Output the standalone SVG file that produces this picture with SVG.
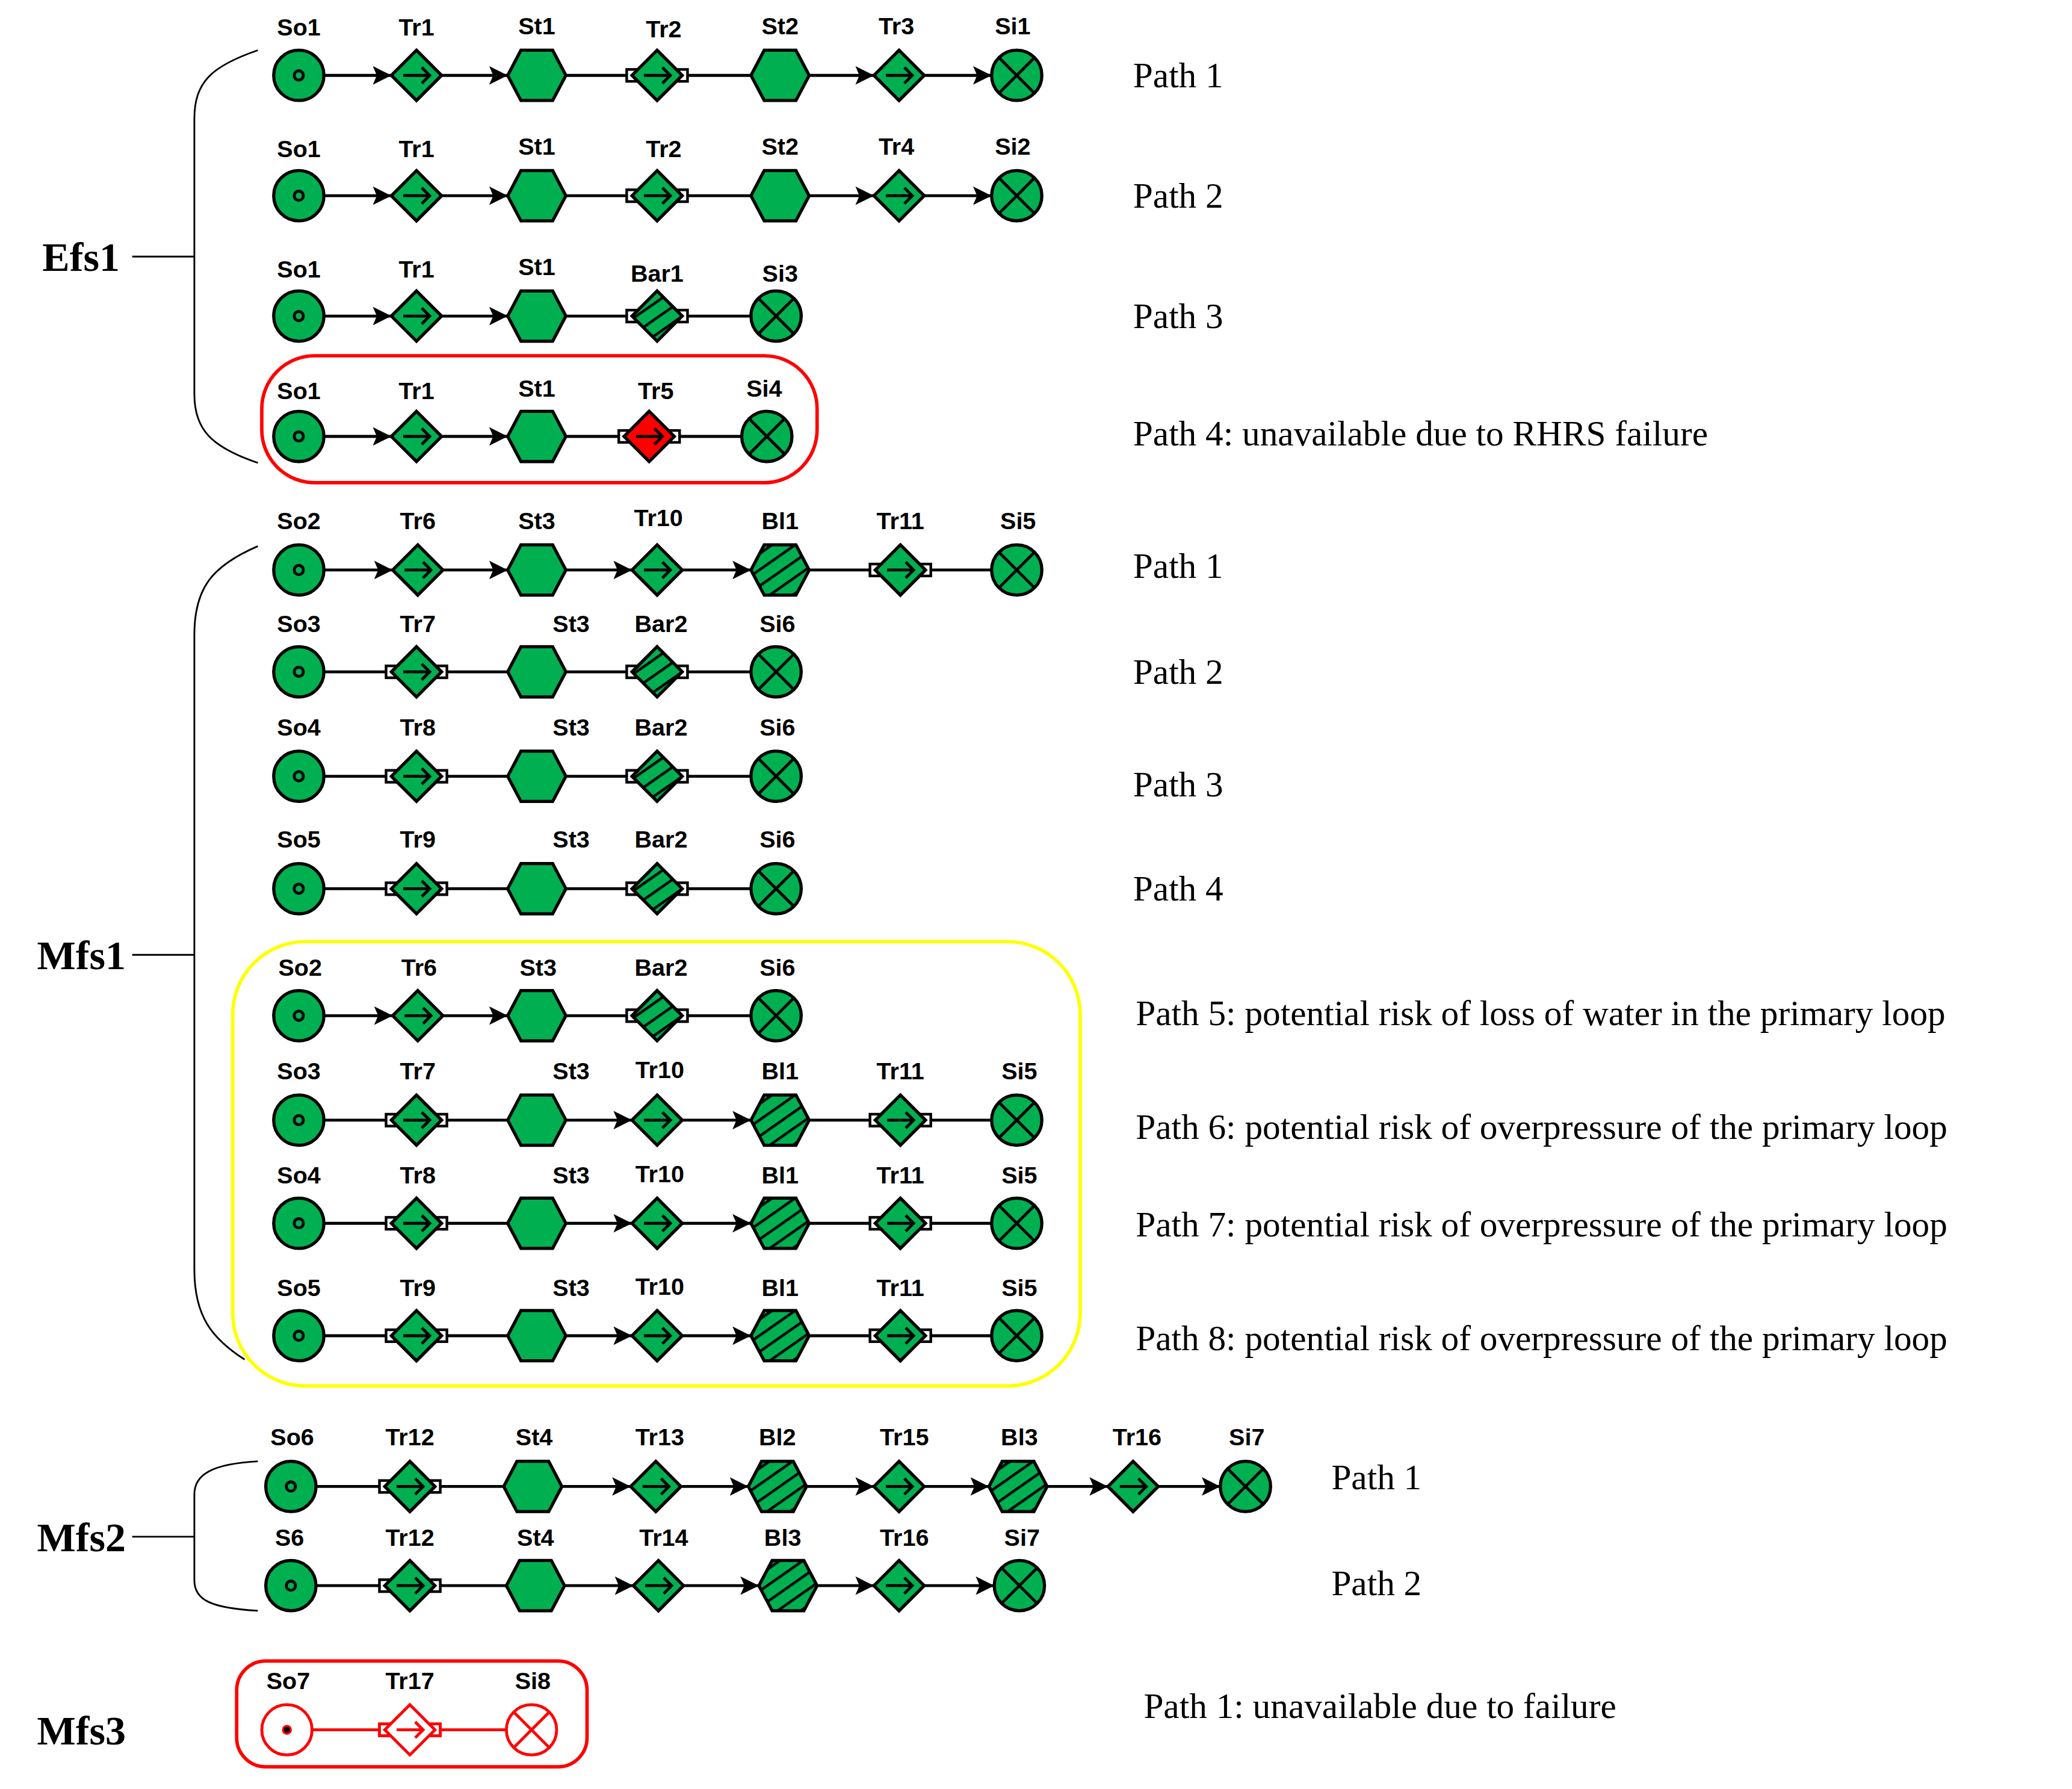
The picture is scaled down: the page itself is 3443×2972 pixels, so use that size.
<svg xmlns="http://www.w3.org/2000/svg" xmlns:xlink="http://www.w3.org/1999/xlink" width="3443" height="2972" viewBox="0 0 3443 2972">
<style>
.g{fill:#00b050;stroke:#000;stroke-width:2.4}
.w{fill:#fff;stroke:#000;stroke-width:2}
.k{fill:none;stroke:#000;stroke-width:2.2}
.c line{stroke:#000;stroke-width:2.2}
.c .a{marker-end:url(#ah)}
.r line{stroke:#f00;stroke-width:2.2}
.nl{font-family:"Liberation Sans",Arial,sans-serif;font-weight:bold;font-size:18px;text-anchor:middle}
.pl{font-family:"Liberation Serif","Times New Roman",serif;font-size:27px}
.gl{font-family:"Liberation Serif","Times New Roman",serif;font-weight:bold;font-size:31px}
.br{fill:none;stroke:#000;stroke-width:1.3}
</style>
<defs>
<marker id="ah" markerUnits="userSpaceOnUse" markerWidth="16" markerHeight="14" refX="14" refY="7" orient="auto"><path d="M0,0 L14,7 L0,14 L3,7 Z" fill="#000"/></marker>
<pattern id="hatch" patternUnits="userSpaceOnUse" width="10" height="10" patternTransform="rotate(-35)"><rect width="10" height="10" fill="#00b050"/><line x1="0" y1="0" x2="10" y2="0" stroke="#000" stroke-width="4"/></pattern>
<g id="so"><circle r="19" class="g"/><circle r="3.5" class="k"/></g>
<g id="si"><circle r="19" class="g"/><path d="M-13.4,-13.4 L13.4,13.4 M13.4,-13.4 L-13.4,13.4" class="k"/></g>
<g id="tr"><polygon points="0,-19 19,0 0,19 -19,0" class="g"/><path d="M-10,0 H10 M4,-6 L10,0 L4,6" class="k"/></g>
<g id="trp"><rect x="-23" y="-4.5" width="9" height="9" class="w"/><rect x="14" y="-4.5" width="9" height="9" class="w"/><use xlink:href="#tr"/></g>
<g id="trr"><polygon points="0,-19 19,0 0,19 -19,0" fill="#f00" stroke="#000" stroke-width="2.4"/><path d="M-10,0 H10 M4,-6 L10,0 L4,6" class="k"/></g>
<g id="st"><polygon points="-22,0 -12,-19 12,-19 22,0 12,19 -12,19" class="g"/></g>
<g id="bl"><polygon points="-22,0 -12,-19 12,-19 22,0 12,19 -12,19" fill="url(#hatch)" stroke="#000" stroke-width="2.4"/></g>
<g id="bar"><rect x="-23" y="-4.5" width="9" height="9" class="w"/><rect x="14" y="-4.5" width="9" height="9" class="w"/><polygon points="0,-19 19,0 0,19 -19,0" fill="url(#hatch)" stroke="#000" stroke-width="2.4"/></g>
</defs>
<rect width="3443" height="2972" fill="#fff"/>
<g transform="scale(2.197)">
<g id="connectors">
<g class="c">
<line class="a" x1="245" y1="57" x2="296" y2="57"/><line class="a" x1="334" y1="57" x2="384" y2="57"/><line x1="428" y1="57" x2="474" y2="57"/><line x1="520" y1="57" x2="568" y2="57"/><line class="a" x1="612" y1="57" x2="661" y2="57"/><line class="a" x1="699" y1="57" x2="750" y2="57"/>
<line class="a" x1="245" y1="148" x2="296" y2="148"/><line class="a" x1="334" y1="148" x2="384" y2="148"/><line x1="428" y1="148" x2="474" y2="148"/><line x1="520" y1="148" x2="568" y2="148"/><line class="a" x1="612" y1="148" x2="661" y2="148"/><line class="a" x1="699" y1="148" x2="750" y2="148"/>
<line class="a" x1="245" y1="239" x2="296" y2="239"/><line class="a" x1="334" y1="239" x2="384" y2="239"/><line x1="428" y1="239" x2="474" y2="239"/><line x1="520" y1="239" x2="568" y2="239"/>
<line class="a" x1="245" y1="330" x2="296" y2="330"/><line class="a" x1="334" y1="330" x2="384" y2="330"/><line x1="428" y1="330" x2="468" y2="330"/><line x1="514" y1="330" x2="561" y2="330"/>
<line class="a" x1="245" y1="431" x2="297" y2="431"/><line class="a" x1="335" y1="431" x2="384" y2="431"/><line class="a" x1="428" y1="431" x2="478" y2="431"/><line class="a" x1="516" y1="431" x2="568" y2="431"/><line x1="612" y1="431" x2="658" y2="431"/><line x1="704" y1="431" x2="750" y2="431"/>
<line x1="245" y1="508" x2="292" y2="508"/><line x1="338" y1="508" x2="384" y2="508"/><line x1="428" y1="508" x2="474" y2="508"/><line x1="520" y1="508" x2="568" y2="508"/>
<line x1="245" y1="587" x2="292" y2="587"/><line x1="338" y1="587" x2="384" y2="587"/><line x1="428" y1="587" x2="474" y2="587"/><line x1="520" y1="587" x2="568" y2="587"/>
<line x1="245" y1="672" x2="292" y2="672"/><line x1="338" y1="672" x2="384" y2="672"/><line x1="428" y1="672" x2="474" y2="672"/><line x1="520" y1="672" x2="568" y2="672"/>
<line class="a" x1="245" y1="768" x2="297" y2="768"/><line class="a" x1="335" y1="768" x2="384" y2="768"/><line x1="428" y1="768" x2="474" y2="768"/><line x1="520" y1="768" x2="568" y2="768"/>
<line x1="245" y1="847" x2="292" y2="847"/><line x1="338" y1="847" x2="384" y2="847"/><line class="a" x1="428" y1="847" x2="478" y2="847"/><line class="a" x1="516" y1="847" x2="568" y2="847"/><line x1="612" y1="847" x2="658" y2="847"/><line x1="704" y1="847" x2="750" y2="847"/>
<line x1="245" y1="925" x2="292" y2="925"/><line x1="338" y1="925" x2="384" y2="925"/><line class="a" x1="428" y1="925" x2="478" y2="925"/><line class="a" x1="516" y1="925" x2="568" y2="925"/><line x1="612" y1="925" x2="658" y2="925"/><line x1="704" y1="925" x2="750" y2="925"/>
<line x1="245" y1="1010" x2="292" y2="1010"/><line x1="338" y1="1010" x2="384" y2="1010"/><line class="a" x1="428" y1="1010" x2="478" y2="1010"/><line class="a" x1="516" y1="1010" x2="568" y2="1010"/><line x1="612" y1="1010" x2="658" y2="1010"/><line x1="704" y1="1010" x2="750" y2="1010"/>
<line x1="239" y1="1124" x2="287" y2="1124"/><line x1="333" y1="1124" x2="381" y2="1124"/><line class="a" x1="425" y1="1124" x2="477" y2="1124"/><line class="a" x1="515" y1="1124" x2="566" y2="1124"/><line class="a" x1="610" y1="1124" x2="661" y2="1124"/><line class="a" x1="699" y1="1124" x2="748" y2="1124"/><line class="a" x1="792" y1="1124" x2="838" y2="1124"/><line class="a" x1="876" y1="1124" x2="923" y2="1124"/>
<line x1="239" y1="1199" x2="287" y2="1199"/><line x1="333" y1="1199" x2="383" y2="1199"/><line class="a" x1="427" y1="1199" x2="479" y2="1199"/><line class="a" x1="517" y1="1199" x2="574" y2="1199"/><line class="a" x1="618" y1="1199" x2="661" y2="1199"/><line class="a" x1="699" y1="1199" x2="752" y2="1199"/>
</g>
<g class="r"><line x1="236" y1="1308" x2="287" y2="1308"/><line x1="333" y1="1308" x2="383" y2="1308"/></g>
</g>
<g id="boxes">
<rect x="198" y="269" width="420" height="96" rx="40" fill="none" stroke="#f00" stroke-width="2.6"/>
<rect x="176" y="712" width="641" height="336" rx="55" fill="none" stroke="#ff0" stroke-width="2.6"/>
<rect x="179" y="1256" width="265" height="80" rx="22" fill="none" stroke="#f00" stroke-width="2.6"/>
</g>
<g id="groups">
<path class="br" d="M195,38 C160,50 147,62 147,90 V298 C147,325 160,338 195,350 M100,194 H147"/>
<text class="gl" x="32" y="205">Efs1</text>
<path class="br" d="M195,413 C160,428 147,445 147,480 V960 C147,995 160,1012 185,1028 M100,722 H147"/>
<text class="gl" x="28" y="733">Mfs1</text>
<path class="br" d="M195,1105 C160,1107 147,1115 147,1130 V1195 C147,1210 160,1216 195,1218 M100,1162 H147"/>
<text class="gl" x="28" y="1173">Mfs2</text>
<text class="gl" x="28" y="1319">Mfs3</text>
</g>
<g id="efs1-nodes">
<use xlink:href="#so" x="226" y="57"/><use xlink:href="#tr" x="315" y="57"/><use xlink:href="#st" x="406" y="57"/><use xlink:href="#trp" x="497" y="57"/><use xlink:href="#st" x="590" y="57"/><use xlink:href="#tr" x="680" y="57"/><use xlink:href="#si" x="769" y="57"/>
<use xlink:href="#so" x="226" y="148"/><use xlink:href="#tr" x="315" y="148"/><use xlink:href="#st" x="406" y="148"/><use xlink:href="#trp" x="497" y="148"/><use xlink:href="#st" x="590" y="148"/><use xlink:href="#tr" x="680" y="148"/><use xlink:href="#si" x="769" y="148"/>
<use xlink:href="#so" x="226" y="239"/><use xlink:href="#tr" x="315" y="239"/><use xlink:href="#st" x="406" y="239"/><use xlink:href="#bar" x="497" y="239"/><use xlink:href="#si" x="587" y="239"/>
<use xlink:href="#so" x="226" y="330"/><use xlink:href="#tr" x="315" y="330"/><use xlink:href="#st" x="406" y="330"/>
<g transform="translate(491,330)"><rect x="-23" y="-4.5" width="9" height="9" class="w"/><rect x="14" y="-4.5" width="9" height="9" class="w"/><use xlink:href="#trr"/></g>
<use xlink:href="#si" x="580" y="330"/>
</g>
<g id="mfs1-nodes">
<use xlink:href="#so" x="226" y="431"/><use xlink:href="#tr" x="316" y="431"/><use xlink:href="#st" x="406" y="431"/><use xlink:href="#tr" x="497" y="431"/><use xlink:href="#bl" x="590" y="431"/><use xlink:href="#trp" x="681" y="431"/><use xlink:href="#si" x="769" y="431"/>
<use xlink:href="#so" x="226" y="508"/><use xlink:href="#trp" x="315" y="508"/><use xlink:href="#st" x="406" y="508"/><use xlink:href="#bar" x="497" y="508"/><use xlink:href="#si" x="587" y="508"/>
<use xlink:href="#so" x="226" y="587"/><use xlink:href="#trp" x="315" y="587"/><use xlink:href="#st" x="406" y="587"/><use xlink:href="#bar" x="497" y="587"/><use xlink:href="#si" x="587" y="587"/>
<use xlink:href="#so" x="226" y="672"/><use xlink:href="#trp" x="315" y="672"/><use xlink:href="#st" x="406" y="672"/><use xlink:href="#bar" x="497" y="672"/><use xlink:href="#si" x="587" y="672"/>
<use xlink:href="#so" x="226" y="768"/><use xlink:href="#tr" x="316" y="768"/><use xlink:href="#st" x="406" y="768"/><use xlink:href="#bar" x="497" y="768"/><use xlink:href="#si" x="587" y="768"/>
<use xlink:href="#so" x="226" y="847"/><use xlink:href="#trp" x="315" y="847"/><use xlink:href="#st" x="406" y="847"/><use xlink:href="#tr" x="497" y="847"/><use xlink:href="#bl" x="590" y="847"/><use xlink:href="#trp" x="681" y="847"/><use xlink:href="#si" x="769" y="847"/>
<use xlink:href="#so" x="226" y="925"/><use xlink:href="#trp" x="315" y="925"/><use xlink:href="#st" x="406" y="925"/><use xlink:href="#tr" x="497" y="925"/><use xlink:href="#bl" x="590" y="925"/><use xlink:href="#trp" x="681" y="925"/><use xlink:href="#si" x="769" y="925"/>
<use xlink:href="#so" x="226" y="1010"/><use xlink:href="#trp" x="315" y="1010"/><use xlink:href="#st" x="406" y="1010"/><use xlink:href="#tr" x="497" y="1010"/><use xlink:href="#bl" x="590" y="1010"/><use xlink:href="#trp" x="681" y="1010"/><use xlink:href="#si" x="769" y="1010"/>
</g>
<g id="mfs2-nodes">
<use xlink:href="#so" x="220" y="1124"/><use xlink:href="#trp" x="310" y="1124"/><use xlink:href="#st" x="403" y="1124"/><use xlink:href="#tr" x="496" y="1124"/><use xlink:href="#bl" x="588" y="1124"/><use xlink:href="#tr" x="680" y="1124"/><use xlink:href="#bl" x="770" y="1124"/><use xlink:href="#tr" x="857" y="1124"/><use xlink:href="#si" x="942" y="1124"/>
<use xlink:href="#so" x="220" y="1199"/><use xlink:href="#trp" x="310" y="1199"/><use xlink:href="#st" x="405" y="1199"/><use xlink:href="#tr" x="498" y="1199"/><use xlink:href="#bl" x="596" y="1199"/><use xlink:href="#tr" x="680" y="1199"/><use xlink:href="#si" x="771" y="1199"/>
</g>
<g id="mfs3-nodes" fill="#fff" stroke="#f00" stroke-width="2.2">
<circle cx="217" cy="1308" r="19"/><circle cx="217" cy="1308" r="3" fill="#000" stroke="#f00" stroke-width="1.5"/>
<rect x="287" y="1303.5" width="9" height="9"/><rect x="324" y="1303.5" width="9" height="9"/>
<polygon points="310,1289 329,1308 310,1327 291,1308"/><path d="M300,1308 H320 M314,1302 L320,1308 L314,1314" fill="none"/>
<circle cx="402" cy="1308" r="19"/><path d="M388.6,1294.6 L415.4,1321.4 M415.4,1294.6 L388.6,1321.4" fill="none"/>
</g>
<g id="node-labels" class="nl">
<text x="226" y="27">So1</text><text x="315" y="27">Tr1</text><text x="406" y="26">St1</text><text x="502" y="28">Tr2</text><text x="590" y="26">St2</text><text x="678" y="26">Tr3</text><text x="766" y="26">Si1</text>
<text x="226" y="119">So1</text><text x="315" y="119">Tr1</text><text x="406" y="117">St1</text><text x="502" y="119">Tr2</text><text x="590" y="117">St2</text><text x="678" y="117">Tr4</text><text x="766" y="117">Si2</text>
<text x="226" y="210">So1</text><text x="315" y="210">Tr1</text><text x="406" y="208">St1</text><text x="497" y="213">Bar1</text><text x="590" y="213">Si3</text>
<text x="226" y="302">So1</text><text x="315" y="302">Tr1</text><text x="406" y="300">St1</text><text x="496" y="302">Tr5</text><text x="578" y="300">Si4</text>
<text x="226" y="400">So2</text><text x="316" y="400">Tr6</text><text x="406" y="400">St3</text><text x="498" y="398">Tr10</text><text x="590" y="400">Bl1</text><text x="681" y="400">Tr11</text><text x="770" y="400">Si5</text>
<text x="226" y="478">So3</text><text x="316" y="478">Tr7</text><text x="432" y="478">St3</text><text x="500" y="478">Bar2</text><text x="588" y="478">Si6</text>
<text x="226" y="556">So4</text><text x="316" y="556">Tr8</text><text x="432" y="556">St3</text><text x="500" y="556">Bar2</text><text x="588" y="556">Si6</text>
<text x="226" y="641">So5</text><text x="316" y="641">Tr9</text><text x="432" y="641">St3</text><text x="500" y="641">Bar2</text><text x="588" y="641">Si6</text>
<text x="227" y="738">So2</text><text x="317" y="738">Tr6</text><text x="407" y="738">St3</text><text x="500" y="738">Bar2</text><text x="588" y="738">Si6</text>
<text x="226" y="816">So3</text><text x="316" y="816">Tr7</text><text x="432" y="816">St3</text><text x="499" y="815">Tr10</text><text x="590" y="816">Bl1</text><text x="681" y="816">Tr11</text><text x="771" y="816">Si5</text>
<text x="226" y="895">So4</text><text x="316" y="895">Tr8</text><text x="432" y="895">St3</text><text x="499" y="894">Tr10</text><text x="590" y="895">Bl1</text><text x="681" y="895">Tr11</text><text x="771" y="895">Si5</text>
<text x="226" y="980">So5</text><text x="316" y="980">Tr9</text><text x="432" y="980">St3</text><text x="499" y="979">Tr10</text><text x="590" y="980">Bl1</text><text x="681" y="980">Tr11</text><text x="771" y="980">Si5</text>
<text x="221" y="1093">So6</text><text x="310" y="1093">Tr12</text><text x="404" y="1093">St4</text><text x="499" y="1093">Tr13</text><text x="588" y="1093">Bl2</text><text x="684" y="1093">Tr15</text><text x="771" y="1093">Bl3</text><text x="860" y="1093">Tr16</text><text x="943" y="1093">Si7</text>
<text x="219" y="1169">S6</text><text x="310" y="1169">Tr12</text><text x="405" y="1169">St4</text><text x="502" y="1169">Tr14</text><text x="592" y="1169">Bl3</text><text x="684" y="1169">Tr16</text><text x="773" y="1169">Si7</text>
<text x="218" y="1277">So7</text><text x="310" y="1277">Tr17</text><text x="403" y="1277">Si8</text>
</g>
<g id="path-labels" class="pl">
<text x="857" y="66">Path 1</text><text x="857" y="157">Path 2</text><text x="857" y="248">Path 3</text><text x="857" y="337">Path 4: unavailable due to RHRS failure</text>
<text x="857" y="437">Path 1</text><text x="857" y="517">Path 2</text><text x="857" y="602">Path 3</text><text x="857" y="681">Path 4</text>
<text x="859" y="775">Path 5: potential risk of  loss of water in the primary loop</text>
<text x="859" y="861">Path 6: potential risk of  overpressure of the primary loop</text>
<text x="859" y="935">Path 7: potential risk of  overpressure of the primary loop</text>
<text x="859" y="1021">Path 8: potential risk of  overpressure of the primary loop</text>
<text x="1007" y="1126">Path 1</text><text x="1007" y="1206">Path 2</text>
<text x="865" y="1299">Path 1: unavailable due to failure</text>
</g>
</g>
</svg>
